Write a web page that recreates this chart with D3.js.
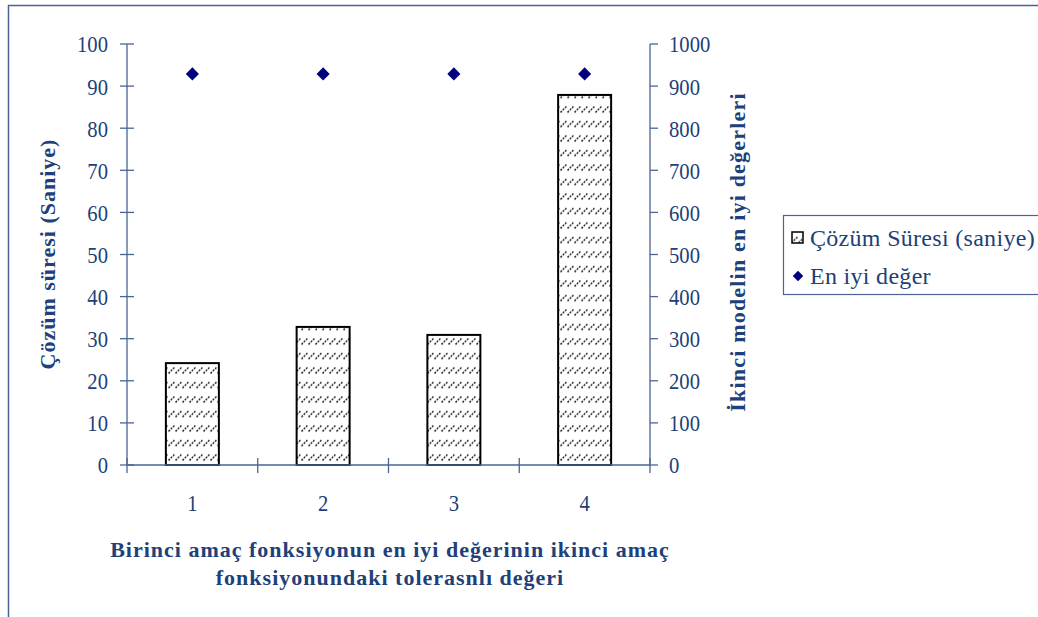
<!DOCTYPE html>
<html>
<head>
<meta charset="utf-8">
<script src="https://cdn.jsdelivr.net/npm/d3@7"></script>
<style>
  body { margin: 0; background: #fff; }
  svg { display: block; }
</style>
</head>
<body>
<svg id="chart" width="1038" height="617"></svg>
<script>
// data
const categories = ['1', '2', '3', '4']
const solveTime  = [24.2, 32.8, 30.9, 87.9]      // Çözüm Süresi (saniye), left axis
const bestValue  = [929, 929, 929, 929]          // En iyi değer, right axis
const leftTicks  = [0, 10, 20, 30, 40, 50, 60, 70, 80, 90, 100]
const rightTicks = [0, 100, 200, 300, 400, 500, 600, 700, 800, 900, 1000]

const
  svg        = d3.select('#chart'),
  serif      = '"Liberation Serif", "Times New Roman", "DejaVu Serif", serif',
  textColor  = '#213f78',
  axisColor  = '#4a6594',
  plotLeft   = 127,
  plotRight  = 650,
  plotTop    = 44,
  plotBottom = 465,
  tickFont   = 24,
  tickSqueeze = 0.86

svg.attr('font-family', serif).attr('fill', textColor)

const
  xScale  = d3.scaleBand().domain(categories).range([plotLeft, plotRight]).paddingInner(0).paddingOuter(0),
  yLeft   = d3.scaleLinear().domain([0, 100]).range([plotBottom, plotTop]),
  yRight  = d3.scaleLinear().domain([0, 1000]).range([plotBottom, plotTop])

// tick labels in the picture are narrow and tall, so squeeze them sideways
function tickLabels(group, data, xFn, yFn, anchor)
{
  group.selectAll('text')
    .data(data)
    .join('text')
    .attr('transform', d => `translate(${xFn(d)},${yFn(d)}) scale(${tickSqueeze},1)`)
    .attr('dy', '0.35em')
    .attr('text-anchor', anchor)
    .attr('font-size', tickFont)
    .text(d => d)
}

// outer frame (cut by the window on the right and bottom)
svg.append('rect')
  .attr('x', 8.5).attr('y', 5.5)
  .attr('width', 1200).attr('height', 800)
  .attr('fill', 'none')
  .attr('stroke', axisColor)
  .attr('stroke-width', 1.5)

// hatch pattern for the bars
const pattern = svg.append('defs').append('pattern')
  .attr('id', 'hatch')
  .attr('patternUnits', 'userSpaceOnUse')
  .attr('width', 7).attr('height', 14.5)
pattern.append('rect').attr('width', 7).attr('height', 14.5).attr('fill', '#fff')
pattern.append('line')
  .attr('x1', 0.5).attr('y1', 11)
  .attr('x2', 6.5).attr('y2', 5)
  .attr('stroke', '#222')
  .attr('stroke-width', 1.5)
  .attr('stroke-dasharray', '2,1.2')

// bars
const barWidth = 53
svg.append('g').selectAll('rect')
  .data(solveTime)
  .join('rect')
  .attr('x', (d, i) => xScale(categories[i]) + xScale.bandwidth() / 2 - barWidth / 2)
  .attr('y', d => yLeft(d))
  .attr('width', barWidth)
  .attr('height', d => plotBottom - yLeft(d))
  .attr('fill', 'url(#hatch)')
  .attr('stroke', '#000')
  .attr('stroke-width', 2)

// left axis
const gLeft = svg.append('g')
gLeft.append('line')
  .attr('x1', plotLeft).attr('x2', plotLeft)
  .attr('y1', plotTop).attr('y2', plotBottom)
  .attr('stroke', axisColor).attr('stroke-width', 1.3)
gLeft.selectAll('.tick')
  .data(leftTicks)
  .join('line')
  .attr('class', 'tick')
  .attr('x1', plotLeft - 7).attr('x2', plotLeft + 7)
  .attr('y1', d => yLeft(d)).attr('y2', d => yLeft(d))
  .attr('stroke', axisColor).attr('stroke-width', 1.3)
tickLabels(gLeft, leftTicks, () => 108, d => yLeft(d), 'end')

// right axis
const gRight = svg.append('g')
gRight.append('line')
  .attr('x1', plotRight).attr('x2', plotRight)
  .attr('y1', plotTop).attr('y2', plotBottom)
  .attr('stroke', axisColor).attr('stroke-width', 1.3)
gRight.selectAll('.tick')
  .data(rightTicks)
  .join('line')
  .attr('class', 'tick')
  .attr('x1', plotRight).attr('x2', plotRight + 8)
  .attr('y1', d => yRight(d)).attr('y2', d => yRight(d))
  .attr('stroke', axisColor).attr('stroke-width', 1.3)
tickLabels(gRight, rightTicks, () => 669, d => yRight(d), 'start')

// bottom axis
const gBottom = svg.append('g')
gBottom.append('line')
  .attr('x1', plotLeft).attr('x2', plotRight)
  .attr('y1', plotBottom).attr('y2', plotBottom)
  .attr('stroke', axisColor).attr('stroke-width', 1.3)
const xTickPos = categories.map(c => xScale(c)).concat([plotRight])
gBottom.selectAll('.tick')
  .data(xTickPos)
  .join('line')
  .attr('class', 'tick')
  .attr('x1', d => d).attr('x2', d => d)
  .attr('y1', plotBottom - 7).attr('y2', plotBottom + 8)
  .attr('stroke', axisColor).attr('stroke-width', 1.3)
tickLabels(gBottom, categories, d => xScale(d) + xScale.bandwidth() / 2, () => 503, 'middle')

// diamonds
svg.append('g').selectAll('path')
  .data(bestValue)
  .join('path')
  .attr('transform', (d, i) => `translate(${xScale(categories[i]) + xScale.bandwidth() / 2},${yRight(d)})`)
  .attr('d', d3.symbol(d3.symbolDiamond2, 110))
  .attr('fill', '#00007f')

// axis titles
svg.append('text')
  .attr('transform', 'translate(47,254) rotate(-90)')
  .attr('dy', '0.35em')
  .attr('text-anchor', 'middle')
  .attr('font-size', 22)
  .attr('font-weight', 'bold')
  .attr('letter-spacing', 1)
  .text('Çözüm süresi (Saniye)')

svg.append('text')
  .attr('transform', 'translate(737,252) rotate(-90)')
  .attr('dy', '0.35em')
  .attr('text-anchor', 'middle')
  .attr('font-size', 22)
  .attr('font-weight', 'bold')
  .attr('letter-spacing', 1.2)
  .text('İkinci modelin en iyi değerleri')

const xTitle = svg.append('text')
  .attr('text-anchor', 'middle')
  .attr('font-size', 22)
  .attr('font-weight', 'bold')
  .attr('letter-spacing', 1)
xTitle.append('tspan').attr('x', 390).attr('y', 557).text('Birinci amaç fonksiyonun en iyi değerinin ikinci amaç')
xTitle.append('tspan').attr('x', 390).attr('y', 585).text('fonksiyonundaki tolerasnlı değeri')

// legend
const legend = svg.append('g')
legend.append('rect')
  .attr('x', 783.5).attr('y', 215.5)
  .attr('width', 300).attr('height', 79)
  .attr('fill', '#fff')
  .attr('stroke', axisColor)
  .attr('stroke-width', 1.2)
legend.append('rect')
  .attr('x', 792).attr('y', 232)
  .attr('width', 11).attr('height', 11)
  .attr('fill', 'url(#hatch)')
  .attr('stroke', '#000')
  .attr('stroke-width', 1.5)
legend.append('text')
  .attr('x', 810).attr('y', 238)
  .attr('dy', '0.35em')
  .attr('font-size', 24)
  .attr('letter-spacing', 0.3)
  .text('Çözüm Süresi (saniye)')
legend.append('path')
  .attr('transform', 'translate(798,276)')
  .attr('d', d3.symbol(d3.symbolDiamond2, 70))
  .attr('fill', '#00007f')
legend.append('text')
  .attr('x', 810).attr('y', 276)
  .attr('dy', '0.35em')
  .attr('font-size', 24)
  .attr('letter-spacing', 0.3)
  .text('En iyi değer')
</script>
</body>
</html>
